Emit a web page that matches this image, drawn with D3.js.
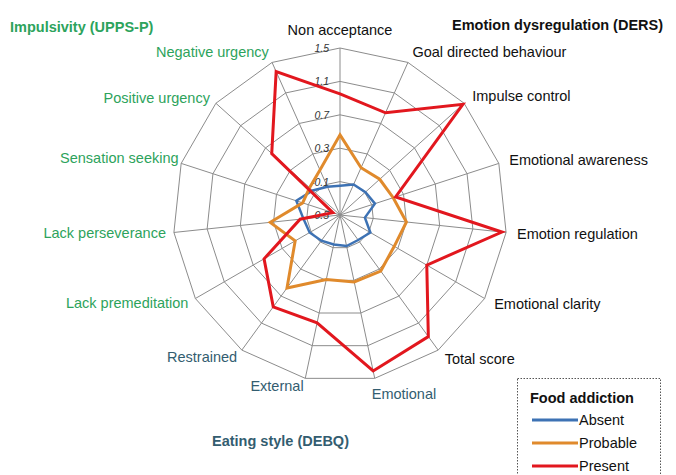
<!DOCTYPE html>
<html><head><meta charset="utf-8">
<script src="https://cdn.jsdelivr.net/npm/d3@7"></script>
<style>body{margin:0;background:#fff;}svg{display:block;font-family:"Liberation Sans",Arial,sans-serif;}</style>
</head><body><svg id="c" width="676" height="475"></svg>
<script>
const axes = ["Non acceptance","Goal directed behaviour","Impulse control","Emotional awareness","Emotion regulation","Emotional clarity","Total score","Emotional","External","Restrained","Lack premeditation","Lack perseverance","Sensation seeking","Positive urgency","Negative urgency"];
const axisGroup = ["DERS","DERS","DERS","DERS","DERS","DERS","DERS","DEBQ","DEBQ","DEBQ","UPPS","UPPS","UPPS","UPPS","UPPS"];
const absent   = [-0.15,-0.10,-0.09,-0.06,-0.20,-0.08,-0.13,-0.12,-0.14,-0.12,-0.08,-0.06,0.05,-0.06,-0.13];
const probable = [0.46,0.12,0.14,0.17,0.30,0.25,0.33,0.32,0.29,0.58,0.12,0.34,-0.03,-0.01,0.09];
const present  = [0.95,0.84,1.48,0.20,1.45,0.70,1.30,1.41,0.82,0.86,0.55,-0.02,-0.41,0.60,1.38];
const seriesNames = ["Absent","Probable","Present"];
const tickValues = [-0.5,-0.1,0.3,0.7,1.1,1.5];
const groupTitles = ["Impulsivity (UPPS-P)","Emotion dysregulation (DERS)","Eating style (DEBQ)"];
const legendTitle = "Food addiction";

const colors = {Absent:"#3d72b4",Probable:"#e08a2c",Present:"#e2171e"};
const groupColor = {DERS:"#111",DEBQ:"#335d70",UPPS:"#2da35c"};
const svg = d3.select("#c");
const cx = 340, cy = 215, R = 167;
const n = axes.length;
const r = d3.scaleLinear().domain([-0.5,1.5]).range([0,R]);
const ang = d3.scaleLinear().domain([0,n]).range([0,2*Math.PI]);
const pt = (i,v)=>[cx + r(v)*Math.sin(ang(i)), cy - r(v)*Math.cos(ang(i))];

const g = svg.append("g");
tickValues.slice(1).forEach(t=>{
  g.append("path").attr("d", d3.line()(d3.range(n).map(i=>pt(i,t)))+"Z")
   .attr("fill","none").attr("stroke","#8c8c8c").attr("stroke-width",1);
});
d3.range(n).forEach(i=>{
  const [x,y]=pt(i,1.5);
  g.append("line").attr("x1",cx).attr("y1",cy).attr("x2",x).attr("y2",y)
   .attr("stroke","#8c8c8c").attr("stroke-width",1);
});
tickValues.forEach(t=>{
  g.append("text").attr("x",cx-11).attr("y",cy-r(t)+4).attr("text-anchor","end")
   .attr("font-size",10.5).attr("font-style","italic").attr("fill","#333").text(t);
});
const data = {Absent:absent,Probable:probable,Present:present};
const widths = {Absent:2.5,Probable:3,Present:3};
seriesNames.forEach(s=>{
  g.append("path").attr("d", d3.line()(data[s].map((v,i)=>pt(i,v)))+"Z")
   .attr("fill","none").attr("stroke",colors[s]).attr("stroke-width",widths[s])
   .attr("stroke-linejoin","miter");
});
axes.forEach((a,i)=>{
  const s = Math.sin(ang(i)), c = Math.cos(ang(i));
  let anchor = s>0.05?"start":(s<-0.05?"end":"middle");
  const off = anchor==="start" ? 11 : 8;
  let x = cx + (R+off)*s, y = cy - (R+off)*c + 5;
  if (i===0) y = cy - R - 13;
  if (i===7) { anchor="start"; x = cx + R*s - 3; y = cy - R*c + 21; }
  if (i===12) { x += 5; y -= 3; }
  if (i===14) { y -= 3; }
  svg.append("text").attr("x",x).attr("y",y).attr("text-anchor",anchor)
    .attr("font-size",14.5).attr("fill",groupColor[axisGroup[i]]).text(a);
});
svg.append("text").attr("x",10).attr("y",32).attr("font-size",14.5).attr("font-weight","bold").attr("fill",groupColor.UPPS).text(groupTitles[0]);
svg.append("text").attr("x",452).attr("y",30).attr("font-size",14.5).attr("font-weight","bold").attr("fill","#111").text(groupTitles[1]);
svg.append("text").attr("x",212).attr("y",446).attr("font-size",14.5).attr("font-weight","bold").attr("fill",groupColor.DEBQ).text(groupTitles[2]);
const lg = svg.append("g");
lg.append("rect").attr("x",517.5).attr("y",378.5).attr("width",143).attr("height",110)
  .attr("fill","#fff").attr("stroke","#555").attr("stroke-width",1).attr("stroke-dasharray","1.5,1.5");
lg.append("text").attr("x",530).attr("y",403).attr("font-size",14.5).attr("font-weight","bold").attr("fill","#111").text(legendTitle);
seriesNames.forEach((s,k)=>{
  const y = 420 + k*23;
  lg.append("line").attr("x1",532).attr("x2",578).attr("y1",y).attr("y2",y).attr("stroke",colors[s]).attr("stroke-width",3);
  lg.append("text").attr("x",579).attr("y",y+5).attr("font-size",14.5).attr("fill","#111").text(s);
});
</script></body></html>
